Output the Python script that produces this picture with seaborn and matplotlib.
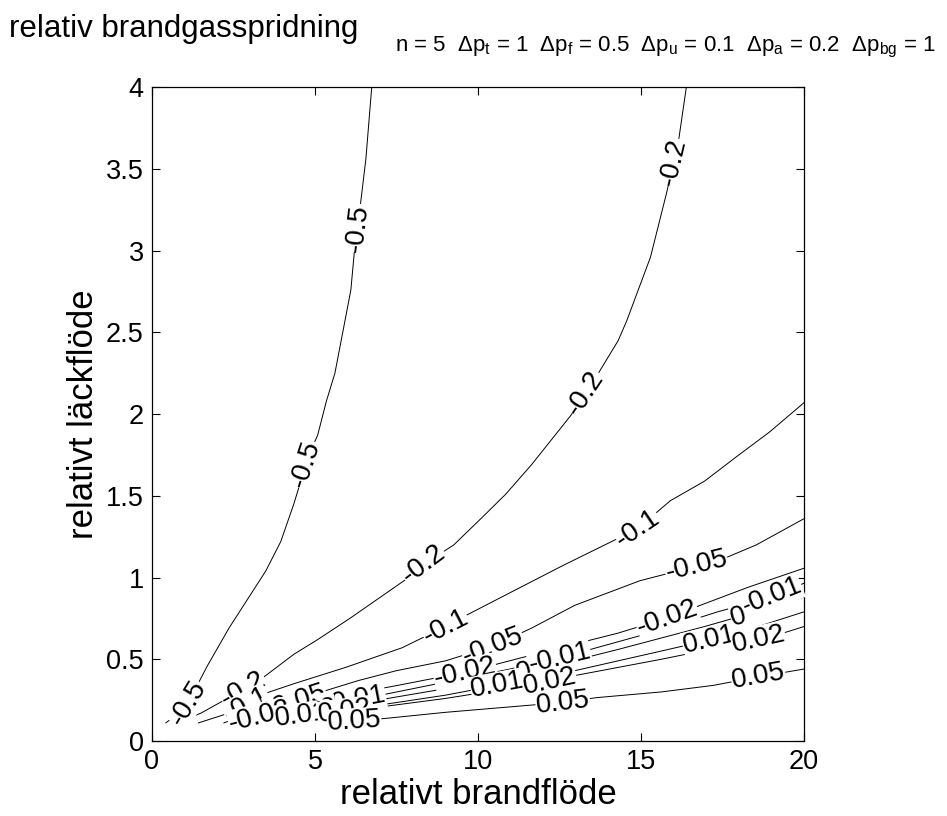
import numpy as np
import pandas as pd
import matplotlib
matplotlib.use("Agg")
import matplotlib.pyplot as plt
import seaborn as sns

# === данные ===
LEVELS = [-0.5, -0.2, -0.1, -0.05, -0.02, -0.01, 0, 0.01, 0.02, 0.05]

X_M05 = [0.42, 1.02, 1.7, 2.36, 3.49, 3.95, 4.35, 4.81, 5.08, 5.35, 5.61, 5.88, 6.1, 6.21, 6.41, 6.56, 6.74]
Y_M05 = [0.11, 0.2, 0.46, 0.69, 1.04, 1.22, 1.45, 1.75, 1.87, 2.08, 2.25, 2.53, 2.76, 3.0, 3.31, 3.56, 4.0]

X_M02 = [0.75, 1.5, 2.13, 2.74, 3.29, 4.35, 5.08, 6.07, 7.8, 8.33, 9.26, 10.19, 10.85, 11.64, 12.44, 12.84,
         13.57, 14.3, 14.56, 15.29, 15.78, 16.15, 16.39]
Y_M02 = [0.11, 0.17, 0.24, 0.31, 0.37, 0.53, 0.62, 0.75, 0.99, 1.08, 1.2, 1.38, 1.51, 1.69, 1.89, 1.99,
         2.21, 2.45, 2.57, 2.96, 3.35, 3.67, 4.0]

X_M01 = [1.42, 2.2, 2.9, 3.46, 4.35, 5.94, 7.67, 9.0, 9.65, 12.57, 14.3, 14.9, 15.9, 16.95, 18.0, 18.94, 20.0]
Y_M01 = [0.11, 0.16, 0.22, 0.29, 0.35, 0.45, 0.57, 0.7, 0.77, 1.07, 1.24, 1.3, 1.47, 1.59, 1.75, 1.89, 2.07]

X_M005 = [2.2, 3.0, 4.35, 5.2, 6.34, 7.5, 9.0, 10.45, 11.64, 12.97, 14.96, 16.7, 17.35, 18.54, 20.0]
Y_M005 = [0.11, 0.17, 0.24, 0.3, 0.37, 0.43, 0.49, 0.58, 0.69, 0.83, 0.98, 1.07, 1.1, 1.2, 1.36]

X_M002 = [2.5, 3.29, 5.41, 7.67, 9.59, 10.58, 12.31, 14.3, 15.76, 16.82, 18.28, 20.0]
Y_M002 = [0.11, 0.15, 0.26, 0.345, 0.42, 0.47, 0.56, 0.66, 0.75, 0.83, 0.94, 1.057]

X_M001 = [2.7, 4.0, 6.21, 7.14, 9.0, 10.98, 12.57, 13.63, 15.62, 17.35, 18.8, 20.0]
Y_M001 = [0.11, 0.165, 0.25, 0.285, 0.36, 0.44, 0.51, 0.57, 0.68, 0.79, 0.87, 0.965]

X_0 = [2.8, 4.5, 6.5, 9.0, 11.0, 12.3, 14.3, 16.95, 18.0, 20.0]
Y_0 = [0.11, 0.17, 0.235, 0.32, 0.4, 0.46, 0.56, 0.7, 0.76, 0.88]

X_P001 = [3.0, 5.0, 7.0, 9.0, 10.85, 12.97, 15.62, 17.15, 18.28, 20.0]
Y_P001 = [0.11, 0.165, 0.22, 0.28, 0.35, 0.43, 0.55, 0.62, 0.68, 0.79]

X_P002 = [3.3, 5.94, 9.0, 12.18, 12.97, 15.63, 17.6, 19.2, 20.0]
Y_P002 = [0.11, 0.18, 0.26, 0.36, 0.4, 0.5, 0.58, 0.65, 0.7]

X_P005 = [4.0, 6.21, 7.27, 9.0, 11.38, 12.57, 13.64, 15.63, 17.22, 18.54, 20.0]
Y_P005 = [0.105, 0.12, 0.14, 0.175, 0.215, 0.235, 0.265, 0.3, 0.34, 0.39, 0.44]

CURVES_X = [X_M05, X_M02, X_M01, X_M005, X_M002, X_M001, X_0, X_P001, X_P002, X_P005]
CURVES_Y = [Y_M05, Y_M02, Y_M01, Y_M005, Y_M002, Y_M001, Y_0, Y_P001, Y_P002, Y_P005]

# где стоят подписи уровней (по оси x)
LABEL_X = [
    [1.1, 4.72, 6.3],
    [2.8, 8.33, 13.3, 16.0],
    [2.9, 9.0, 14.9],
    [4.4, 10.45, 16.7],
    [3.3, 9.6, 15.8],
    [6.2, 12.5, 19.0],
    [5.4, 11.4, 18.0],
    [4.6, 10.6, 17.1],
    [5.9, 12.2, 18.6],
    [6.2, 12.6, 18.6],
]

XTICKS = [0, 5, 10, 15, 20]
YTICKS = [0, 0.5, 1, 1.5, 2, 2.5, 3, 3.5, 4]

# === оформление ===
sns.set_theme(style="ticks")
plt.rcParams['font.family'] = ['Liberation Sans', 'DejaVu Sans']
plt.rcParams['mathtext.default'] = 'regular'
plt.rcParams['text.color'] = 'black'
plt.rcParams['axes.labelcolor'] = 'black'
plt.rcParams['xtick.color'] = 'black'
plt.rcParams['ytick.color'] = 'black'

rows = []
for lev, xs, ys in zip(LEVELS, CURVES_X, CURVES_Y):
    for x, y in zip(xs, ys):
        rows.append({'level': lev, 'x': x, 'y': y})
df = pd.DataFrame(rows)

fig = plt.figure(figsize=(9.47, 8.16), dpi=100)
ax = fig.add_axes([0.1605, 0.092, 0.6885, 0.801])

sns.lineplot(data=df, x='x', y='y', units='level', estimator=None, sort=False,
             color='black', linewidth=0.7, ax=ax, legend=False)

ax.set_xlim(0, 20)
ax.set_ylim(0, 4)
ax.set_xticks(XTICKS)
ax.set_yticks(YTICKS)
ax.set_xticklabels([f"{t:g}" for t in XTICKS])
ax.set_yticklabels([f"{t:g}" for t in YTICKS])
ax.tick_params(direction='in', top=True, right=True, labelsize=19.5, length=6, width=0.8, pad=6,
               colors='black')
for s in ax.spines.values():
    s.set_linewidth(0.9)
    s.set_color('black')
ax.set_xlabel('relativt brandflöde', fontsize=25, labelpad=2)
ax.set_ylabel('relativt läckflöde', fontsize=25, labelpad=4)

# подписи уровней вдоль линий
fig.canvas.draw()
for lev, xs, ys, lxs in zip(LEVELS, CURVES_X, CURVES_Y, LABEL_X):
    for lx in lxs:
        ly = np.interp(lx, xs, ys)
        p1 = ax.transData.transform((lx - 0.15, np.interp(lx - 0.15, xs, ys)))
        p2 = ax.transData.transform((lx + 0.15, np.interp(lx + 0.15, xs, ys)))
        ang = np.degrees(np.arctan2(p2[1] - p1[1], p2[0] - p1[0]))
        ax.text(lx, ly, f"{lev:g}", fontsize=20, rotation=ang, rotation_mode='anchor',
                ha='center', va='center', color='black',
                bbox=dict(facecolor='white', edgecolor='none', pad=0.3))

fig.text(0.01, 0.965, 'relativ brandgasspridning', fontsize=22.5, ha='left', va='center')
fig.text(0.988, 0.942,
         r'n = 5  $\Delta$p$_t$ = 1  $\Delta$p$_f$ = 0.5  $\Delta$p$_u$ = 0.1  '
         r'$\Delta$p$_a$ = 0.2  $\Delta$p$_{bg}$ = 1',
         fontsize=16, ha='right', va='center')

fig.savefig('out.png', dpi=100)
